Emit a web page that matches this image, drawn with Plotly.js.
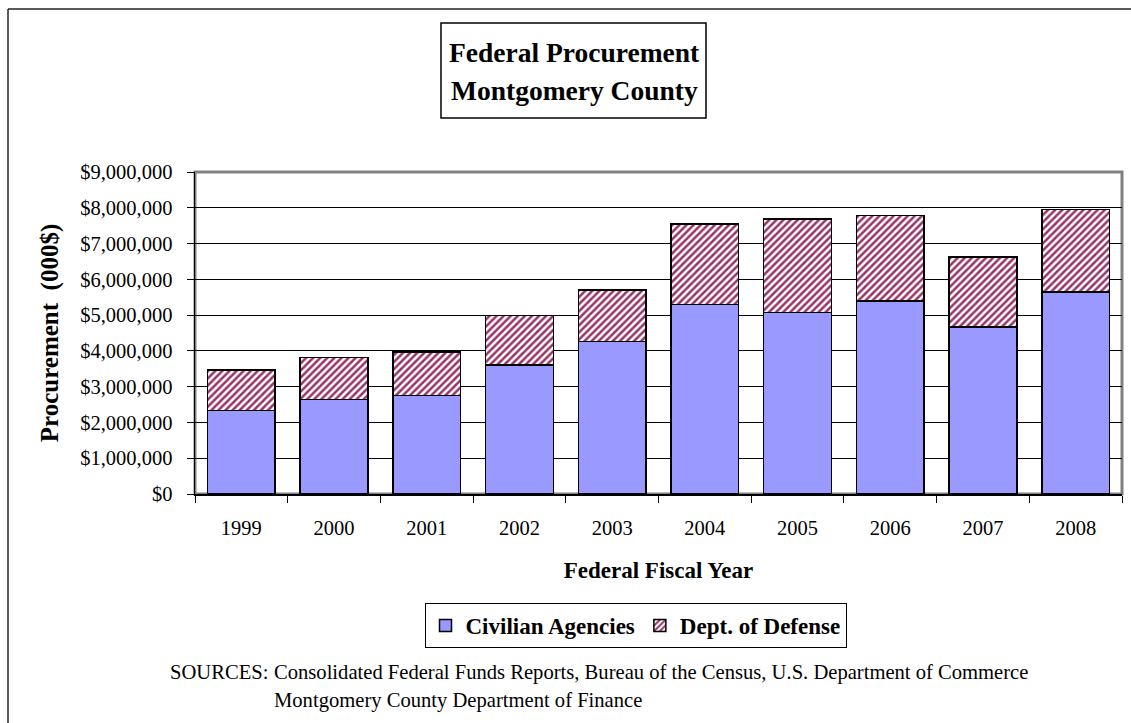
<!DOCTYPE html>
<html>
<head>
<meta charset="utf-8">
<script src="https://cdn.plot.ly/plotly-3.0.1.min.js"></script>
<style>
html, body { margin: 0; padding: 0; background: #ffffff; }
#chart { width: 1131px; height: 723px; }
</style>
</head>
<body>
<div id="chart"></div>
<script>
// ---- data (000$) ----
const years = ['1999', '2000', '2001', '2002', '2003', '2004', '2005', '2006', '2007', '2008'];
const civilianAgencies = [2340000, 2640000, 2750000, 3610000, 4260000, 5290000, 5080000, 5390000, 4670000, 5640000];
const deptOfDefense = [1120000, 1170000, 1220000, 1380000, 1440000, 2250000, 2610000, 2400000, 1950000, 2310000];
const seriesNames = ['Civilian Agencies', 'Dept. of Defense'];
const titleLines = ['Federal Procurement', 'Montgomery County'];
const sourceLabel = 'SOURCES:';
const sourceLines = [
  'Consolidated Federal Funds Reports, Bureau of the Census, U.S. Department of Commerce',
  'Montgomery County Department of Finance'
];

// ---- geometry helpers (pixel -> paper) ----
const W = 1131, H = 723;
const M = { l: 195, r: 9, t: 172, b: 229 };
const PW = W - M.l - M.r, PH = H - M.t - M.b;
const px = x => (x - M.l) / PW;
const py = y => (H - M.b - y) / PH;

const FONT = '"Liberation Serif", "Times New Roman", Times, serif';

const traces = [
  {
    type: 'bar',
    name: seriesNames[0],
    x: years,
    y: civilianAgencies,
    marker: { color: '#9999ff', line: { color: '#000000', width: 1.5 } },
    hoverinfo: 'x+y+name'
  },
  {
    type: 'bar',
    name: seriesNames[1],
    x: years,
    y: deptOfDefense,
    marker: {
      color: '#ffffff',
      line: { color: '#000000', width: 1.5 },
      pattern: { shape: '/', fgcolor: '#993366', bgcolor: '#ffffff', size: 5, solidity: 0.5 }
    },
    hoverinfo: 'x+y+name'
  }
];

const layout = {
  width: W,
  height: H,
  margin: M,
  paper_bgcolor: '#ffffff',
  plot_bgcolor: '#ffffff',
  barmode: 'stack',
  bargap: 0.27,
  font: { family: FONT, color: '#000000', size: 20 },
  showlegend: true,
  legend: {
    orientation: 'h',
    x: px(635.5), xanchor: 'center',
    y: py(603), yanchor: 'top',
    bordercolor: '#000000', borderwidth: 1,
    bgcolor: '#ffffff',
    font: { family: FONT, size: 23, weight: 'bold', color: '#000000' },
    itemwidth: 30,
    traceorder: 'normal'
  },
  xaxis: {
    type: 'category',
    showgrid: false,
    showline: true, linecolor: '#000000', linewidth: 1.5,
    ticks: 'outside', tickson: 'boundaries', ticklen: 7, tickcolor: '#000000', tickwidth: 1,
    ticklabelstandoff: 15,
    tickfont: { family: FONT, size: 20.5, color: '#000000' },
    title: { text: 'Federal Fiscal Year', standoff: 24, font: { family: FONT, size: 23, weight: 'bold', color: '#000000' } },
    fixedrange: true
  },
  yaxis: {
    range: [0, 9000000],
    dtick: 1000000,
    tickformat: '$,.0f',
    showgrid: true, gridcolor: '#000000', gridwidth: 1,
    zeroline: false,
    showline: true, linecolor: '#000000', linewidth: 1.5,
    ticks: 'outside', ticklen: 7, tickcolor: '#000000', tickwidth: 1,
    ticklabelstandoff: 10,
    tickfont: { family: FONT, size: 20.5, color: '#000000' },
    title: { text: 'Procurement  (000$)', standoff: 14, font: { family: FONT, size: 25, weight: 'bold', color: '#000000' } },
    fixedrange: true
  },
  shapes: [
    // plot area frame (grey)
    { type: 'rect', xref: 'paper', yref: 'paper', x0: 0, x1: 1, y0: 0, y1: 1,
      line: { color: '#808080', width: 3 }, layer: 'below' },
    // title box
    { type: 'rect', xref: 'paper', yref: 'paper', x0: px(441), x1: px(706), y0: py(118), y1: py(23),
      line: { color: '#000000', width: 1.5 }, fillcolor: 'rgba(0,0,0,0)' },
    // outer chart border (left and top edges)
    { type: 'line', xref: 'paper', yref: 'paper', x0: px(8), x1: px(8), y0: py(9), y1: py(723),
      line: { color: '#222222', width: 1.5 } },
    { type: 'line', xref: 'paper', yref: 'paper', x0: px(8), x1: px(1131), y0: py(9), y1: py(9),
      line: { color: '#222222', width: 1.5 } }
  ],
  annotations: [
    { xref: 'paper', yref: 'paper', x: px(574), y: py(53), xanchor: 'center', yanchor: 'middle',
      text: titleLines[0], showarrow: false,
      font: { family: FONT, size: 27.5, weight: 'bold', color: '#000000' } },
    { xref: 'paper', yref: 'paper', x: px(574), y: py(90), xanchor: 'center', yanchor: 'middle',
      text: titleLines[1], showarrow: false,
      font: { family: FONT, size: 27.5, weight: 'bold', color: '#000000' } },
    { xref: 'paper', yref: 'paper', x: px(167.7), y: py(672), xanchor: 'left', yanchor: 'middle',
      text: sourceLabel, showarrow: false,
      font: { family: FONT, size: 20.6, color: '#000000' } },
    { xref: 'paper', yref: 'paper', x: px(271.7), y: py(672), xanchor: 'left', yanchor: 'middle',
      text: sourceLines[0], showarrow: false,
      font: { family: FONT, size: 20.6, color: '#000000' } },
    { xref: 'paper', yref: 'paper', x: px(271.7), y: py(700), xanchor: 'left', yanchor: 'middle',
      text: sourceLines[1], showarrow: false,
      font: { family: FONT, size: 20.6, color: '#000000' } }
  ]
};

Plotly.newPlot('chart', traces, layout, { displayModeBar: false, staticPlot: true });
</script>
</body>
</html>
